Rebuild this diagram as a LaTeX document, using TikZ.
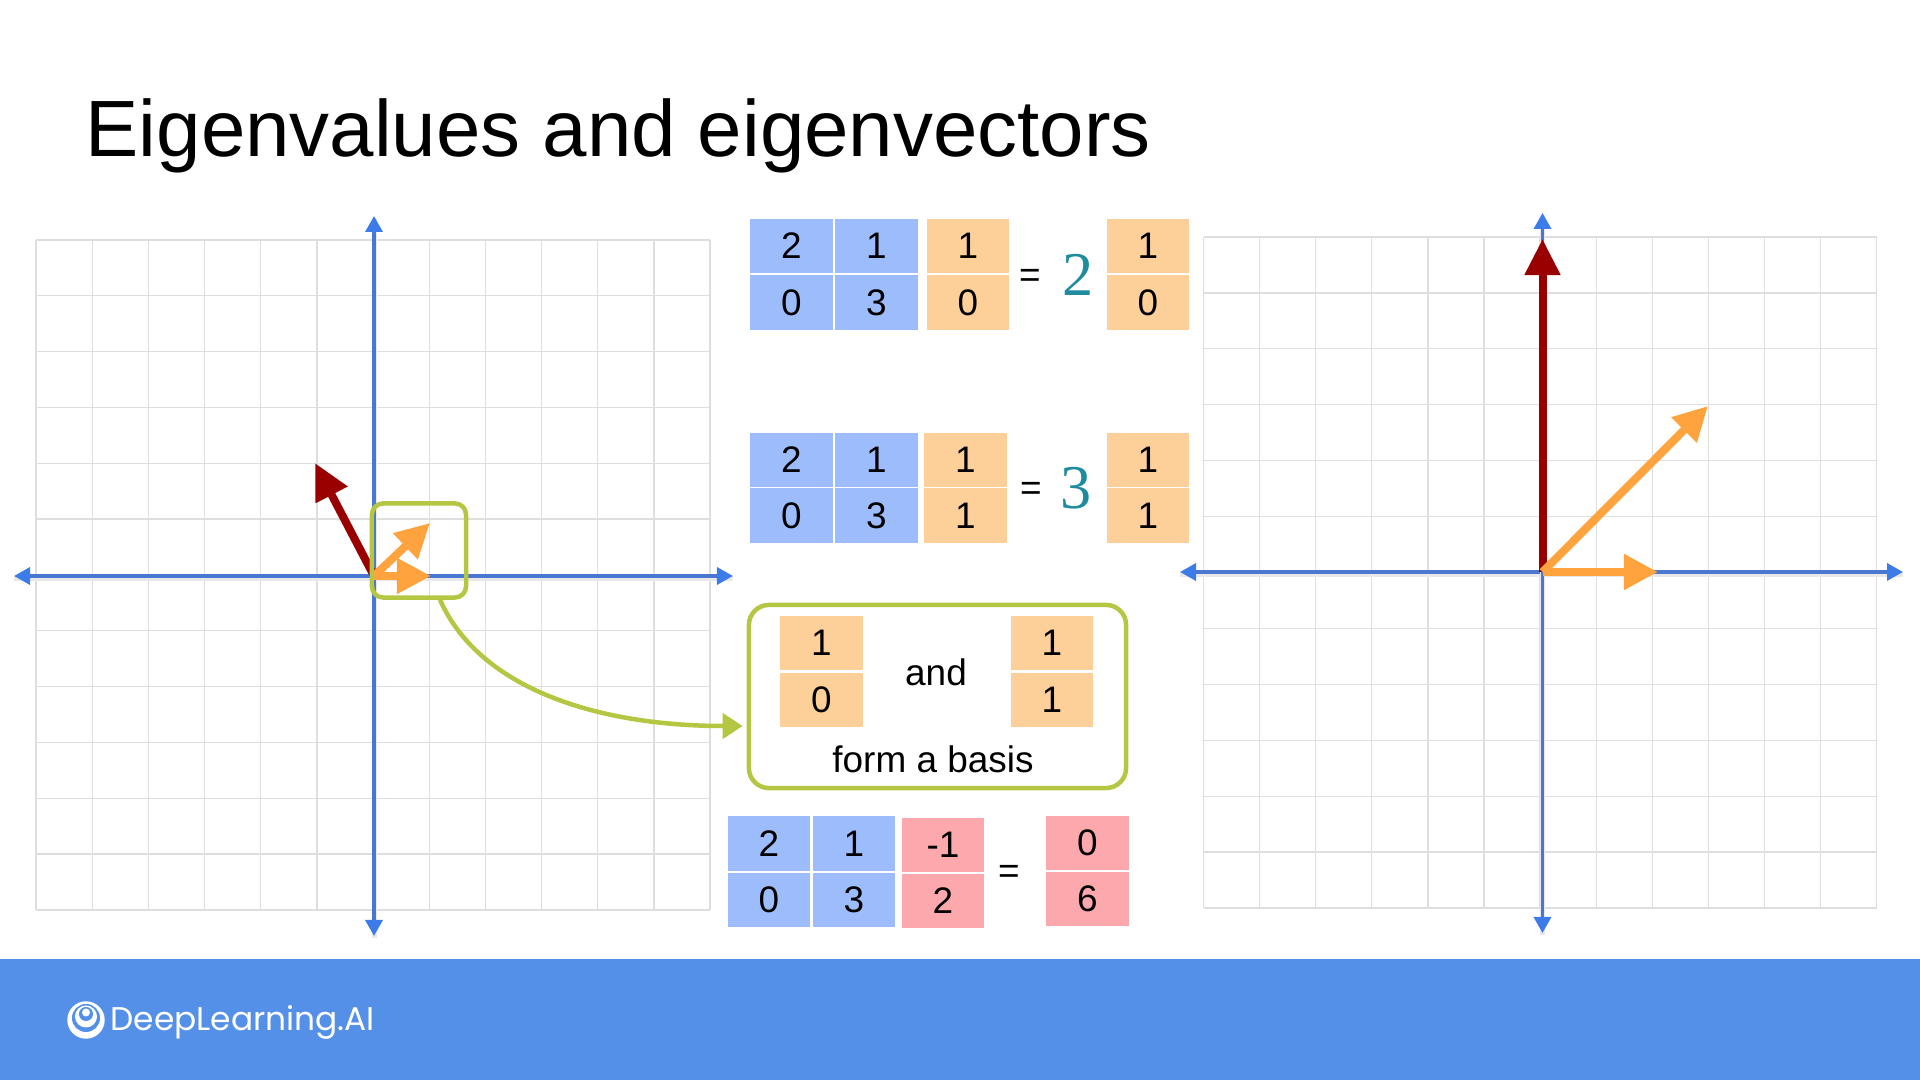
\documentclass[tikz,border=0pt]{standalone}
\usepackage{fontspec}
\setmainfont{Liberation Sans}
\newfontfamily\logofont{Poppins}
\newfontfamily\scalefont{Liberation Serif}
\usetikzlibrary{positioning, arrows.meta, calc}
\definecolor{matblue}{HTML}{9DBCFB}
\definecolor{vecorange}{HTML}{FDD09A}
\definecolor{vecpink}{HTML}{FCA8AC}
\definecolor{arrorange}{HTML}{FFA33F}
\definecolor{arrred}{HTML}{990000}
\definecolor{axisblue}{HTML}{4A78D0}
\definecolor{tipblue}{HTML}{3C7BE8}
\definecolor{boxgreen}{HTML}{B5C742}
\definecolor{scaleteal}{HTML}{1E8C9E}
\definecolor{footblue}{HTML}{5590E8}
\definecolor{gridgray}{HTML}{DEDEDE}

\begin{document}
\begin{tikzpicture}[x=0.01cm, y=-0.01cm, font=\fontsize{10.5pt}{12pt}\selectfont,
    cell/.style={minimum width=0.82cm, minimum height=0.54cm, inner sep=0pt},
    mcell/.style={cell, fill=matblue},
    vcell/.style={cell, fill=vecorange},
    pcell/.style={cell, fill=vecpink},
    gridline/.style={gridgray, line width=0.013cm},
    axis/.style={axisblue, line width=0.035cm, preaction={draw=black!9, line width=0.05cm, -, transform canvas={yshift=-0.025cm}}, {Triangle[length=0.16cm, width=0.17cm, color=tipblue]}-{Triangle[length=0.16cm, width=0.17cm, color=tipblue]}},
    redvec/.style={arrred, line width=0.08cm, -{Triangle[length=0.36cm, width=0.34cm]}},
    orangevec/.style={arrorange, line width=0.08cm, -{Triangle[length=0.34cm, width=0.34cm]}},
    greenbox/.style={draw=boxgreen, line width=0.045cm, inner sep=0pt},
    scalar/.style={text=scaleteal, font=\fontsize{17.7pt}{20pt}\scalefont}]

  \useasboundingbox (0,0) rectangle (1920,1080);

  \node[anchor=base west, inner sep=0pt, font=\fontsize{22.7pt}{26pt}\selectfont] (title) at (85,157) {Eigenvalues and eigenvectors};

  % Left grid
  \foreach \i in {0,...,12} {
    \draw[gridline] ({36+\i*56.17},240) -- ({36+\i*56.17},910);
    \draw[gridline] (36,{240+\i*55.83}) -- (710,{240+\i*55.83});
  }
  \coordinate (lo) at (374,576);
  \coordinate (lw) at (14,576);
  \coordinate (le) at (733,576);
  \coordinate (ln) at (374,216);
  \coordinate (ls) at (374,936);
  \draw[axis] (lw) -- (le);
  \draw[axis] (ln) -- (ls);

  \coordinate (lred) at (315,463);
  \coordinate (ldiag) at (430,523);
  \coordinate (lhor) at (431,576);
  \draw[redvec] (lo) -- (lred);
  \draw[orangevec] (lo) -- (ldiag);
  \draw[orangevec] (lo) -- (lhor);

  \node[greenbox, rounded corners=0.11cm, minimum width=0.94cm, minimum height=0.94cm] (zoombox) at (419,550.5) {};

  % Right grid
  \foreach \i in {0,...,12} {
    \draw[gridline] ({1203.6+\i*56.08},237) -- ({1203.6+\i*56.08},908);
    \draw[gridline] (1203.6,{237+\i*55.92}) -- (1876.6,{237+\i*55.92});
  }
  \coordinate (ro) at (1542.5,572);
  \coordinate (rw) at (1180,572);
  \coordinate (re) at (1903,572);
  \coordinate (rn) at (1542.5,213);
  \coordinate (rs) at (1542.5,933);
  \draw[axis] (rw) -- (re);
  \draw[axis] (rn) -- (rs);

  \coordinate (rred) at (1542.5,239);
  \coordinate (rdiag) at (1708,406);
  \coordinate (rhor) at (1658,572);
  \draw[redvec] (ro) -- (rred);
  \draw[orangevec] (ro) -- (rdiag);
  \draw[orangevec] (ro) -- (rhor);

  % First equation
  \node[mcell] (ma1) at (791.5,246) {2};
  \node[mcell] (mb1) at (876.5,246) {1};
  \node[mcell] (mc1) at (791.5,302.5) {0};
  \node[mcell] (md1) at (876.5,302.5) {3};
  \node[vcell] (va1) at (968,246) {1};
  \node[vcell] (vb1) at (968,302.5) {0};
  \node (eq1) at (1030,278) {=};
  \node[scalar] (lam1) at (1078,275) {2};
  \node[vcell] (ra1) at (1148,246) {1};
  \node[vcell] (rb1) at (1148,302.5) {0};

  % Second equation
  \node[mcell] (ma2) at (791.5,460) {2};
  \node[mcell] (mb2) at (876.5,460) {1};
  \node[mcell] (mc2) at (791.5,515.5) {0};
  \node[mcell] (md2) at (876.5,515.5) {3};
  \node[vcell] (va2) at (965.5,460) {1};
  \node[vcell] (vb2) at (965.5,515.5) {1};
  \node (eq2) at (1031,491) {=};
  \node[scalar] (lam2) at (1076,488) {3};
  \node[vcell] (ra2) at (1148,460) {1};
  \node[vcell] (rb2) at (1148,515.5) {1};

  % Basis box
  \node[greenbox, rounded corners=0.2cm, minimum width=3.77cm, minimum height=1.83cm] (basisbox) at (937.5,696.5) {};
  \node[vcell] (ba1) at (821.5,643) {1};
  \node[vcell] (bb1) at (821.5,700) {0};
  \node (and) at (936,672) {and};
  \node[vcell] (ba2) at (1052,643) {1};
  \node[vcell] (bb2) at (1052,700) {1};
  \node (basis) at (933,759) {form a basis};
  \draw[boxgreen, line width=0.045cm, -{Triangle[length=0.2cm, width=0.25cm]}] ([xshift=0.21cm]zoombox.south) .. controls (480,690) and (600,726) .. ([xshift=-0.04cm, yshift=-0.295cm]basisbox.west);

  % Third equation
  \node[mcell] (ma3) at (769,843.5) {2};
  \node[mcell] (mb3) at (854,843.5) {1};
  \node[mcell] (mc3) at (769,900) {0};
  \node[mcell] (md3) at (854,900) {3};
  \node[pcell] (va3) at (943,845) {-1};
  \node[pcell] (vb3) at (943,901) {2};
  \node (eq3) at (1009,874) {=};
  \node[pcell] (ra3) at (1087.5,843) {0};
  \node[pcell] (rb3) at (1087.5,899) {6};

  % Footer
  \fill[footblue] (0,959) rectangle (1920,1080);
  \fill[white] (86,1020) circle (0.187cm);
  \fill[footblue] (86,1018) circle (0.14cm);
  \fill[white] (86,1016.5) circle (0.11cm);
  \fill[footblue] (86,1014) circle (0.07cm);
  \fill[white] (86,1012.5) circle (0.04cm);
  \node[anchor=base west, inner sep=0pt, text=white, font=\fontsize{9.33pt}{11pt}\logofont] (brand) at (110,1031) {DeepLearning.AI};
\end{tikzpicture}
\end{document}
